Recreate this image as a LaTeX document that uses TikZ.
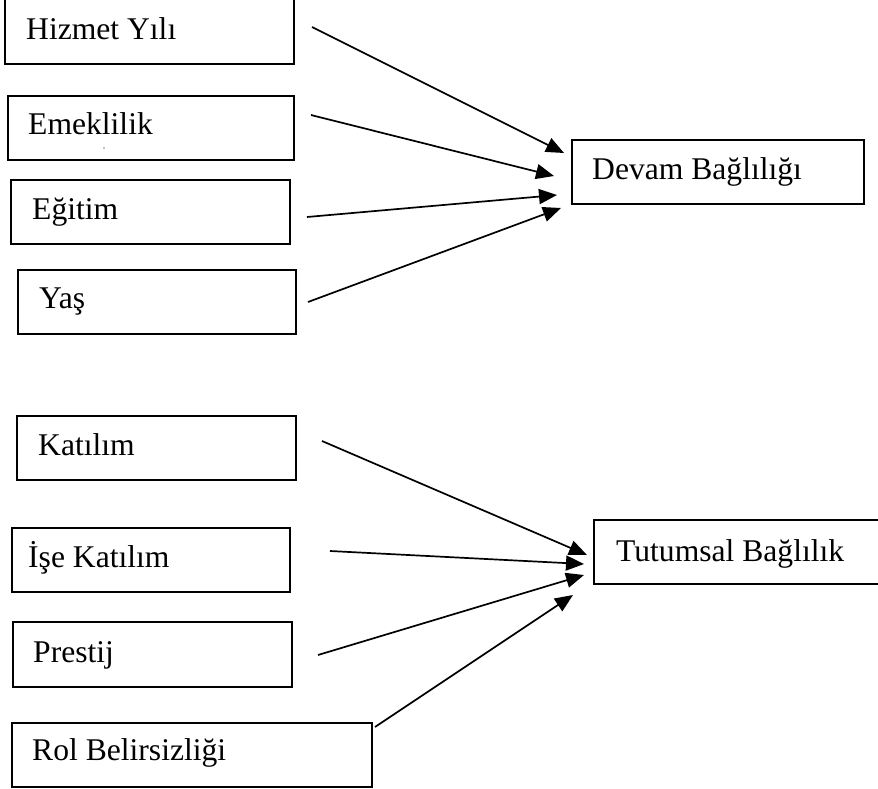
\documentclass[tikz,border=0pt]{standalone}
\usepackage{fontspec}
\setmainfont{Liberation Serif}
\usetikzlibrary{arrows.meta,calc}

\tikzset{
  varbox/.style={draw=black, line width=1.7pt, rectangle, anchor=north west, inner sep=0pt,
                 minimum height=64pt},
  lbl/.style={anchor=base west, inner sep=0pt, font=\fontsize{31.6}{36}\selectfont},
  link/.style={line width=1.7pt, -{Triangle[length=18pt,width=15pt]}}
}

\begin{document}
\begin{tikzpicture}[x=1pt,y=-1pt]
  \clip (0,0) rectangle (878,789);
  \fill[white] (0,0) rectangle (878,789);

  % predictor boxes of the first group
  \node[varbox, minimum width=289pt, minimum height=67pt] (hiz) at (4,-4)  {};
  \node[varbox, minimum width=286pt] (eme) at (7,95)  {};
  \node[varbox, minimum width=279pt] (egi) at (10,179) {};
  \node[varbox, minimum width=278pt] (yas) at (17,269) {};
  % outcome box of the first group
  \node[varbox, minimum width=292pt] (dev) at (571,139) {};

  % predictor boxes of the second group
  \node[varbox, minimum width=279pt] (kat) at (16,415) {};
  \node[varbox, minimum width=278pt] (ise) at (11,527) {};
  \node[varbox, minimum width=279pt, minimum height=65pt] (pre) at (12,621) {};
  \node[varbox, minimum width=360pt] (rol) at (11,722) {};
  % outcome box of the second group
  \node[varbox, minimum width=300pt] (tut) at (593,519) {};

  % box texts
  \node[lbl] (hizt) at ($(hiz.north west)+(22,44)$) {Hizmet Yılı};
  \node[lbl] (emet) at ($(eme.north west)+(21,40)$) {Emeklilik};
  \node[lbl] (egit) at ($(egi.north west)+(22,40)$) {Eğitim};
  \node[lbl] (yast) at ($(yas.north west)+(22,39)$) {Yaş};
  \node[lbl] (devt) at ($(dev.north west)+(21,40)$) {Devam Bağlılığı};
  \node[lbl] (katt) at ($(kat.north west)+(22,40)$) {Katılım};
  \node[lbl] (iset) at ($(ise.north west)+(17,40)$) {İşe Katılım};
  \node[lbl] (pret) at ($(pre.north west)+(21,41)$) {Prestij};
  \node[lbl] (rolt) at ($(rol.north west)+(21,38)$) {Rol Belirsizliği};
  \node[lbl] (tutt) at ($(tut.north west)+(23,42)$) {Tutumsal Bağlılık};

  % stray dot under Emeklilik
  \fill[gray] (104,148) circle (0.8pt);

  % arrow end points, first group
  \coordinate (a1s) at (312,27);  \coordinate (a1e) at (564,153);
  \coordinate (a2s) at (311,115); \coordinate (a2e) at (554,176);
  \coordinate (a3s) at (307,217); \coordinate (a3e) at (557,195);
  \coordinate (a4s) at (308,302); \coordinate (a4e) at (561,208);
  % arrow end points, second group
  \coordinate (b1s) at (322,441); \coordinate (b1e) at (587,555);
  \coordinate (b2s) at (330,551); \coordinate (b2e) at (584,564);
  \coordinate (b3s) at (318,655); \coordinate (b3e) at (584,575);
  \coordinate (b4s) at (375,727); \coordinate (b4e) at (573,595);

  \draw[link] (a1s) -- (a1e);
  \draw[link] (a2s) -- (a2e);
  \draw[link] (a3s) -- (a3e);
  \draw[link] (a4s) -- (a4e);
  \draw[link] (b1s) -- (b1e);
  \draw[link] (b2s) -- (b2e);
  \draw[link] (b3s) -- (b3e);
  \draw[link] (b4s) -- (b4e);
\end{tikzpicture}
\end{document}
